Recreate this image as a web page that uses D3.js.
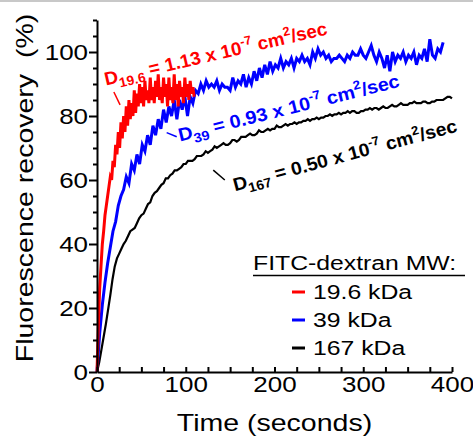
<!DOCTYPE html>
<html lang="en">
<head>
  <meta charset="UTF-8">
  <title>Fluorescence recovery</title>
  <style>
    body { margin: 0; background: #fff; }
    svg { display: block; font-family: "Liberation Sans", Arial, sans-serif; }
    .axis path, .axis line { stroke: #000; stroke-width: 2; }
    .axis text { font-size: 22px; fill: #000; }
  </style>
</head>
<body>
  <div id="chart"></div>
  <script src="https://d3js.org/d3.v7.min.js"></script>
  <script>
    const width = 473;
    const height = 439;
    const margin = { top: 20, right: 21, bottom: 67, left: 97 };
    const stretch = 1.18; // the original lettering is wider than Arial

    // sampling interval (s) of each trace
    const redDt = 1.5;
    const blueDt = 3;
    const blackDt = 2.5;

    // 19.6 kDa
    const redValues = [0, 14, 26, 33, 40, 44, 49, 52, 55, 58, 61, 60, 66, 64, 71, 68, 75, 70, 78, 73,
      80, 75, 83, 77, 85, 79, 84, 80, 88, 81, 87, 83, 90, 84, 89, 83, 91, 85, 88, 84,
      92, 85, 89, 84, 91, 86, 93, 85, 89, 84, 92, 86, 90, 83, 92, 85, 89, 84, 93, 85,
      90, 83, 91, 86, 89, 84, 92, 86, 90, 85, 91, 87, 89, 86];

    // 39 kDa
    const blueValues = [0, 12, 21, 28, 34, 39, 44, 47, 52, 55, 57, 61, 59, 65, 63, 68, 65, 71, 69, 74,
      71, 77, 74, 79, 76, 82, 78, 83, 80, 85, 79, 85, 82, 86, 80, 86, 84, 88, 87, 90,
      88, 91, 89, 90, 89, 91, 88, 90, 89, 89, 88, 92, 89, 91, 90, 93, 89, 92, 90, 94,
      91, 95, 92, 96, 93, 97, 94, 96, 95, 98, 95, 97, 96, 98, 95, 98, 97, 99, 97, 98,
      96, 100, 98, 101, 99, 100, 98, 99, 97, 98, 98, 99, 98, 97, 99, 98, 100, 99, 99, 101,
      99, 98, 100, 102, 99, 97, 100, 98, 95, 99, 94, 100, 97, 99, 98, 100, 97, 99, 98, 100,
      96, 99, 98, 101, 97, 104, 99, 98, 101, 100, 103];

    // 167 kDa
    const blackValues = [0, 3, 7, 11, 15, 19.5, 24, 29, 33, 35.5, 37, 38.5, 40, 41, 42.5, 44, 44.5, 45, 46.5, 48,
      49, 49.5, 51, 52.5, 53, 55, 56, 56.5, 57.5, 58.5, 59, 60.5, 60.5, 61.5, 62, 63, 63, 63.5, 64, 65,
      65, 66, 66, 66, 66.5, 67.5, 67.5, 67.5, 68, 69, 68.5, 69, 69.5, 70.5, 70, 70.5, 71, 71.5, 71, 71,
      71.5, 72.5, 72.5, 72, 72.5, 73.5, 73.5, 73.5, 74, 74.5, 74, 74, 74.5, 75.5, 75, 75, 75.5, 76, 75.5, 76,
      76, 77, 76.5, 76.5, 77, 77.5, 77, 77.5, 77.5, 78, 77.5, 78, 78, 78.5, 78.5, 79, 78.5, 79, 79, 79.5,
      79, 79.5, 79.5, 80, 80, 80.5, 80, 80.5, 80.5, 81, 80.5, 81, 81, 81.5, 81, 81.5, 81.5, 81, 81, 81.5,
      81.5, 82, 82, 82.5, 82, 82.5, 82.5, 82, 82.5, 83, 82.5, 82.5, 83, 83.5, 83, 83, 83.5, 84, 83.5, 83.5,
      83.5, 84, 84, 84.5, 84, 84, 84, 84.5, 84.5, 84, 84, 84.5, 84.5, 85, 85, 85, 85, 85.5, 86, 86, 85.5];

    const seriesNames = ["19.6 kDa", "39 kDa", "167 kDa"];
    const seriesColors = ["#ff0000", "#0000ff", "#000000"];

    const xTicks = [0, 100, 200, 300, 400];
    const yTicks = [0, 20, 40, 60, 80, 100];

    const svg = d3.select("#chart").append("svg")
      .attr("width", width)
      .attr("height", height);

    svg.append("rect").attr("x", 0).attr("y", 0).attr("width", width).attr("height", 2).attr("fill", "#c8c8c8");

    const x = d3.scaleLinear().domain([0, 400]).range([margin.left, width - margin.right]);
    const y = d3.scaleLinear().domain([0, 110]).range([height - margin.bottom, margin.top]);

    // traces
    const traces = [
      { values: redValues, dt: redDt, color: seriesColors[0], w: 3 },
      { values: blueValues, dt: blueDt, color: seriesColors[1], w: 3 },
      { values: blackValues, dt: blackDt, color: seriesColors[2], w: 2.2 }
    ];
    const line = d3.line().x(d => x(d[0])).y(d => y(d[1]));

    // black first, red on top
    [2, 1, 0].forEach(i => {
      const tr = traces[i];
      svg.append("path")
        .datum(tr.values.map((v, k) => [k * tr.dt, v]))
        .attr("fill", "none")
        .attr("stroke", tr.color)
        .attr("stroke-width", tr.w)
        .attr("d", line);
    });

    // axes
    const xAxis = svg.append("g").attr("class", "axis")
      .attr("transform", `translate(0,${y(0)})`)
      .call(d3.axisBottom(x).tickValues(d3.range(0, 401, 25)).tickSize(-5).tickSizeOuter(0)
        .tickFormat(d => xTicks.includes(d) ? d : ""));
    xAxis.selectAll("text").attr("y", 4).attr("dy", "0.71em")
      .attr("transform", `scale(${stretch},1)`);

    const yAxis = svg.append("g").attr("class", "axis")
      .attr("transform", `translate(${x(0)},0)`)
      .call(d3.axisLeft(y).tickValues(d3.range(0, 111, 5)).tickSize(4).tickSizeOuter(0)
        .tickFormat(d => yTicks.includes(d) ? d : ""));
    yAxis.selectAll(".tick line").attr("x2", d => yTicks.includes(d) ? -8 : -4);
    yAxis.selectAll("text").attr("x", -9 / stretch)
      .attr("transform", `scale(${stretch},1)`);

    // axis titles
    svg.append("text")
      .attr("transform", `translate(${(x(0) + x(400)) / 2},431) scale(1.24,1)`)
      .attr("text-anchor", "middle")
      .attr("font-size", 23)
      .text("Time (seconds)");

    svg.append("text")
      .attr("transform", `translate(33,188) rotate(-90) scale(1.24,1)`)
      .attr("text-anchor", "middle")
      .attr("font-size", 23)
      .attr("xml:space", "preserve")
      .text("Fluorescence recovery  (%)");

    // annotations (positions in data units)
    const notes = [
      { t: 10, v: 89.5, rot: -13, sx: 1.02, color: seriesColors[0], sub: "19.6", val: "1.13", lead: [[19, 87.5], [26, 83.5]] },
      { t: 93.5, v: 72, rot: -14, sx: 1.07, color: seriesColors[1], sub: "39", val: "0.93", lead: [[78.5, 74.8], [89.8, 73.5]] },
      { t: 155.5, v: 56.5, rot: -15, sx: 1.05, color: seriesColors[2], sub: "167", val: "0.50", lead: [[131, 63.1], [144, 60]] }
    ];

    notes.forEach(n => {
      svg.append("line")
        .attr("x1", x(n.lead[0][0])).attr("y1", y(n.lead[0][1]))
        .attr("x2", x(n.lead[1][0])).attr("y2", y(n.lead[1][1]))
        .attr("stroke", n.color).attr("stroke-width", 1.5);

      const txt = svg.append("text")
        .attr("transform", `translate(${x(n.t)},${y(n.v)}) rotate(${n.rot}) scale(${n.sx},1)`)
        .attr("fill", n.color)
        .attr("font-weight", "bold")
        .attr("font-size", 18.5)
        .attr("xml:space", "preserve");
      txt.append("tspan").text("D");
      txt.append("tspan").attr("font-size", 13.5).attr("dy", 5).text(n.sub);
      txt.append("tspan").attr("dy", -5).text(` = ${n.val} x 10`);
      txt.append("tspan").attr("font-size", 12.5).attr("dy", -8).text("-7");
      txt.append("tspan").attr("dy", 8).text(" cm");
      txt.append("tspan").attr("font-size", 12.5).attr("dy", -8).text("2");
      txt.append("tspan").attr("dy", 8).text("/sec");
    });

    // legend
    const legend = svg.append("g");
    legend.append("text")
      .attr("transform", `translate(253,270) scale(${stretch},1)`)
      .attr("font-size", 21)
      .text("FITC-dextran MW:");
    legend.append("line")
      .attr("x1", 253).attr("x2", 465)
      .attr("y1", 275.5).attr("y2", 275.5)
      .attr("stroke", "#000").attr("stroke-width", 1.5);

    seriesNames.forEach((name, i) => {
      const yy = 292 + i * 28;
      legend.append("line")
        .attr("x1", 292).attr("x2", 305)
        .attr("y1", yy).attr("y2", yy)
        .attr("stroke", seriesColors[i]).attr("stroke-width", 3);
      legend.append("text")
        .attr("transform", `translate(313,${yy + 7}) scale(${stretch},1)`)
        .attr("font-size", 21)
        .text(name);
    });
  </script>
</body>
</html>
